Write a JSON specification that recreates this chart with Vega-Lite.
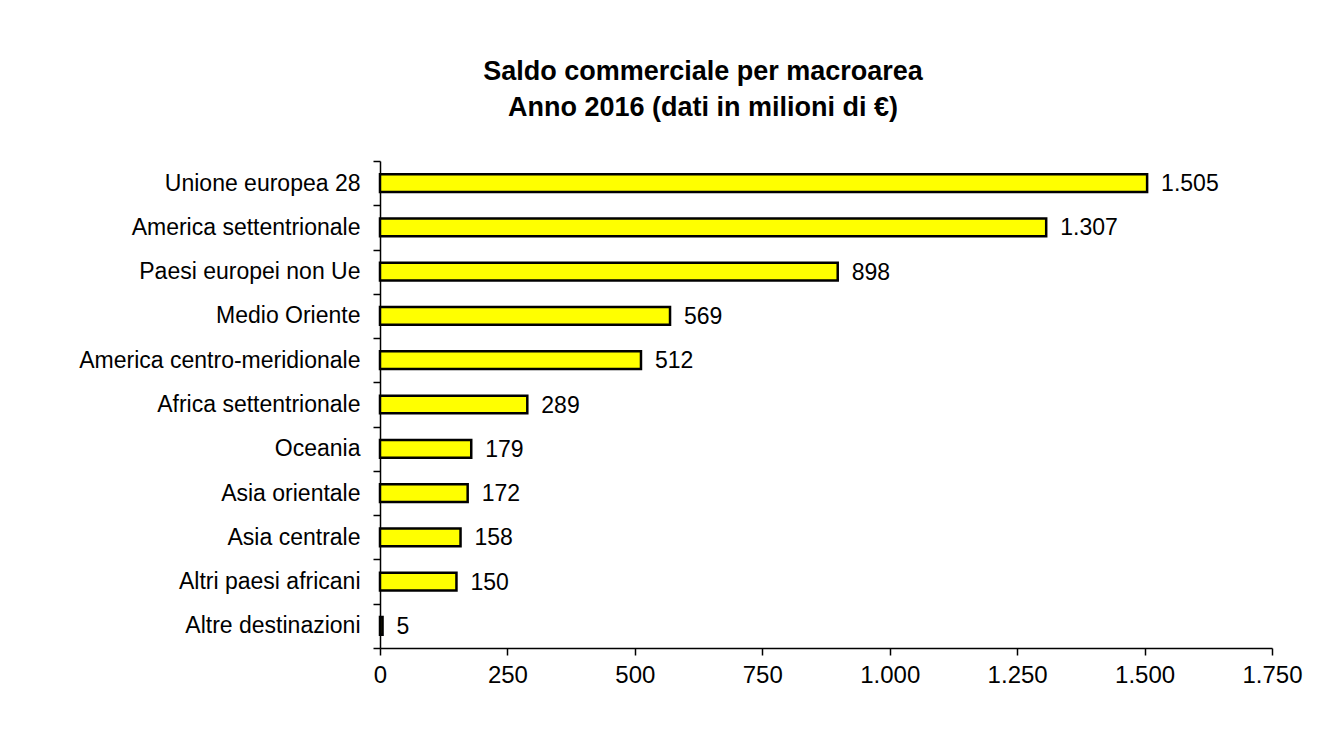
{
  "$schema": "https://vega.github.io/schema/vega-lite/v6.json",
  "width": 892,
  "height": 487,
  "autosize": {"type": "none"},
  "padding": {"left": 380, "top": 161, "right": 72, "bottom": 91},
  "background": "white",
  "config": {
    "font": "Liberation Sans",
    "view": {"stroke": null},
    "locale": {"number": {"decimal": ",", "thousands": ".", "grouping": [3], "currency": ["€", ""]}}
  },
  "title": {
    "text": "Saldo commerciale per macroarea",
    "subtitle": "Anno 2016 (dati in milioni di €)",
    "anchor": "middle",
    "frame": "group",
    "dx": -123,
    "offset": 28,
    "font": "Liberation Sans",
    "fontSize": 27,
    "fontWeight": "bold",
    "color": "black",
    "subtitleFont": "Liberation Sans",
    "subtitleFontSize": 27,
    "subtitleFontWeight": "bold",
    "subtitleColor": "black",
    "subtitlePadding": 9
  },
  "data": {
    "values": [
      {"area": "Unione europea 28", "valore": 1505},
      {"area": "America settentrionale", "valore": 1307},
      {"area": "Paesi europei non Ue", "valore": 898},
      {"area": "Medio Oriente", "valore": 569},
      {"area": "America centro-meridionale", "valore": 512},
      {"area": "Africa settentrionale", "valore": 289},
      {"area": "Oceania", "valore": 179},
      {"area": "Asia orientale", "valore": 172},
      {"area": "Asia centrale", "valore": 158},
      {"area": "Altri paesi africani", "valore": 150},
      {"area": "Altre destinazioni", "valore": 5}
    ]
  },
  "encoding": {
    "y": {
      "field": "area",
      "type": "nominal",
      "sort": null,
      "title": null,
      "scale": {"paddingInner": 0, "paddingOuter": 0},
      "axis": {
        "tickBand": "extent",
        "domainColor": "black",
        "domainWidth": 1.5,
        "tickColor": "black",
        "tickWidth": 1.5,
        "tickSize": 7,
        "labelPadding": 13,
        "labelFontSize": 23,
        "labelLimit": 0,
        "labelColor": "black",
        "labelFont": "Liberation Sans"
      }
    },
    "x": {
      "field": "valore",
      "type": "quantitative",
      "title": null,
      "scale": {"domain": [0, 1750], "nice": false},
      "axis": {
        "values": [0, 250, 500, 750, 1000, 1250, 1500, 1750],
        "format": ",d",
        "grid": false,
        "domainColor": "black",
        "domainWidth": 1.5,
        "tickColor": "black",
        "tickWidth": 1.5,
        "tickSize": 7,
        "labelPadding": 8,
        "labelFontSize": 24,
        "labelColor": "black",
        "labelFont": "Liberation Sans",
        "labelFlush": false
      }
    }
  },
  "layer": [
    {
      "mark": {"type": "bar", "color": "#FFFF00", "stroke": "black", "strokeWidth": 2.5, "height": {"band": 0.4}}
    },
    {
      "mark": {"type": "text", "align": "left", "baseline": "middle", "dx": 14, "dy": 1, "fontSize": 23, "color": "black", "font": "Liberation Sans"},
      "encoding": {"text": {"field": "valore", "type": "quantitative", "format": ",d"}}
    }
  ]
}
